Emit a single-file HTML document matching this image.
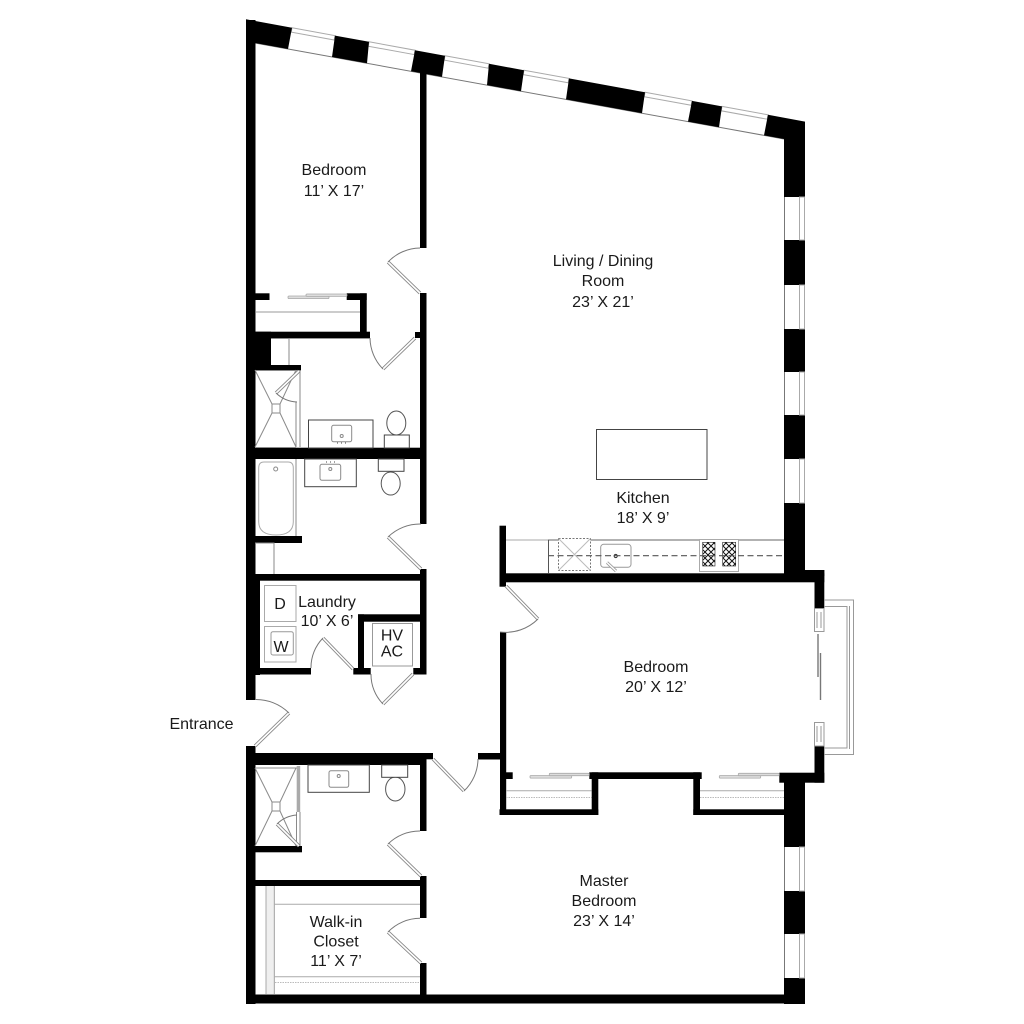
<!DOCTYPE html>
<html><head><meta charset="utf-8"><style>
html,body{margin:0;padding:0;background:#fff}
svg{display:block}
text{font-family:"Liberation Sans",sans-serif;font-size:16px;fill:#1a1a1a;text-anchor:middle}
.g{fill:none;stroke:#8a8a8a;stroke-width:1}
.l{fill:none;stroke:#bbb;stroke-width:1}
.d{fill:none;stroke:#444;stroke-width:1}
.a{fill:none;stroke:#777;stroke-width:1}
.dw{stroke:#888;stroke-width:3.4;fill:none}
.dw2{stroke:#fff;stroke-width:1.6;fill:none}
.s{fill:#ddd;stroke:#aaa;stroke-width:.8}
</style></head><body>
<svg width="1024" height="1024" viewBox="0 0 1024 1024" xmlns="http://www.w3.org/2000/svg">
<defs>
<pattern id="b" width="6" height="6" patternUnits="userSpaceOnUse"><rect width="6" height="6" fill="#fff"/><path d="M0 3L3 0L6 3L3 6Z" fill="none" stroke="#111" stroke-width="1"/></pattern>
</defs>
<rect width="1024" height="1024" fill="#fff"/>

<!-- interior window line on top wall -->
<line x1="255" y1="43" x2="784" y2="139" stroke="#777" stroke-width="1"/>
<!-- top window frames -->
<g fill="none" stroke="#aaa" stroke-width="1">
<path d="M292 27.7L335 35.6L334.2 40L291.2 32.1Z"/>
<path d="M369 41.8L415 50.2L414.2 54.6L368.2 46.2Z"/>
<path d="M445 55.7L489 63.8L488.2 68.2L444.2 60.1Z"/>
<path d="M524 70.2L569 78.4L568.2 82.8L523.2 74.6Z"/>
<path d="M645 92.3L692 100.9L691.2 105.3L644.2 96.7Z"/>
<path d="M722 106.4L768 114.8L767.2 119.2L721.2 110.8Z"/>
</g>
<!-- top wall black -->
<g fill="#000">
<polygon points="246,19.3 292,27.7 288,49 255,43 246,43"/>
<polygon points="335,35.6 369,41.8 367,63.3 332,57"/>
<polygon points="415,50.2 445,55.7 442,76.9 411,71.3"/>
<polygon points="489,63.8 524,70.2 521,91.3 487,85.1"/>
<polygon points="569,78.4 645,92.3 642,113.2 566,99.4"/>
<polygon points="692,100.9 722,106.4 719,127.2 688,121.6"/>
<polygon points="768,114.8 805,121.6 805,197 784,197 784,139 764,135.4"/>
<!-- right wall -->
<rect x="784" y="240" width="21" height="45"/>
<rect x="784" y="329" width="21" height="43"/>
<rect x="784" y="415" width="21" height="44"/>
<rect x="784" y="503" width="21" height="71"/>
<rect x="784" y="773" width="21" height="74"/>
<rect x="784" y="891" width="21" height="43"/>
<rect x="784" y="978" width="21" height="26"/>
<!-- left wall -->
<rect x="246" y="20" width="9.5" height="680"/>
<rect x="246" y="746" width="9.5" height="258"/>
<rect x="246" y="574" width="14" height="101"/>
<!-- bottom wall -->
<rect x="246" y="994.5" width="559" height="9"/>
<!-- central wall x 420-426 -->
<rect x="420" y="70" width="6.5" height="178"/>
<rect x="420" y="293" width="6.5" height="231"/>
<rect x="415" y="332" width="11" height="6"/>
<rect x="420" y="569" width="6.5" height="105.5"/>
<rect x="420" y="759" width="6.5" height="72"/>
<rect x="420" y="876" width="6.5" height="42"/>
<rect x="420" y="963" width="6.5" height="40"/>
<!-- upper closet -->
<rect x="255" y="293.3" width="14.5" height="6.7"/>
<rect x="346.7" y="293.3" width="20" height="6.7"/>
<rect x="360" y="293.3" width="6.7" height="42"/>
<rect x="246" y="331.7" width="124" height="6.7"/>
<rect x="246" y="331.7" width="25" height="39"/>
<rect x="246" y="365" width="55" height="5.5"/>
<!-- bath divider -->
<rect x="255" y="447.7" width="165" height="11.3"/>
<rect x="255" y="536" width="47" height="7"/>
<rect x="246" y="574" width="180" height="6.7"/>
<!-- laundry / hvac -->
<rect x="246" y="668" width="65" height="6.5"/>
<rect x="353.3" y="668" width="17.4" height="6.5"/>
<rect x="413.3" y="668" width="13" height="6.5"/>
<rect x="358" y="614.3" width="62" height="7.4"/>
<rect x="358" y="614.3" width="6" height="55"/>
<!-- hall wall -->
<rect x="246" y="753" width="180" height="12"/>
<rect x="420" y="753" width="13" height="6.3"/>
<rect x="478" y="753" width="22" height="6.5"/>
<rect x="255" y="846" width="47" height="6.3"/>
<rect x="255" y="880" width="165" height="6"/>
<!-- kitchen / bedroom walls -->
<rect x="499.5" y="525.7" width="6.5" height="61"/>
<rect x="500" y="573.3" width="324.3" height="9"/>
<rect x="784" y="570" width="40.3" height="6"/>
<rect x="814.5" y="570" width="9.8" height="38.3"/>
<rect x="500" y="632" width="6.2" height="183"/>
<rect x="814.5" y="746" width="9.8" height="36.7"/>
<rect x="779.3" y="772.7" width="45" height="10"/>
<rect x="506" y="772.3" width="6.7" height="6.7"/>
<rect x="589.3" y="772.3" width="112.4" height="6.7"/>
<rect x="591.7" y="772.3" width="6.6" height="42.7"/>
<rect x="693.3" y="772.3" width="6.7" height="42.7"/>
<rect x="499.5" y="809.3" width="98.8" height="5.7"/>
<rect x="693.3" y="809.3" width="91" height="5.7"/>
</g>

<!-- right windows -->
<g fill="#fff" stroke="#aaa" stroke-width="1">
<rect x="799.5" y="197" width="5" height="43"/>
<rect x="799.5" y="285" width="5" height="44"/>
<rect x="799.5" y="372" width="5" height="43"/>
<rect x="799.5" y="459" width="5" height="44"/>
<rect x="799.5" y="847" width="5" height="44"/>
<rect x="799.5" y="934" width="5" height="44"/>
</g>
<g stroke="#777" stroke-width="1">
<line x1="784.5" y1="197" x2="784.5" y2="240"/><line x1="784.5" y1="285" x2="784.5" y2="329"/>
<line x1="784.5" y1="372" x2="784.5" y2="415"/><line x1="784.5" y1="459" x2="784.5" y2="503"/>
<line x1="784.5" y1="847" x2="784.5" y2="891"/><line x1="784.5" y1="934" x2="784.5" y2="978"/>
</g>

<!-- bay window -->
<g fill="none" stroke="#999" stroke-width="1">
<path d="M824 600H853.5V754.5H824"/>
<path d="M824 606.5H847V748H824"/>
<path d="M849.5 606V749"/>
<rect x="814.5" y="608.5" width="9.5" height="23"/>
<rect x="814.5" y="722.5" width="9.5" height="23.5"/>
<path d="M817 612V628M821 612V628M817 726V742M821 726V742"/>
</g>
<line x1="818" y1="634" x2="818" y2="677" stroke="#777" stroke-width="1.4"/>
<line x1="820.5" y1="653" x2="820.5" y2="700" stroke="#777" stroke-width="1.4"/>

<!-- doors -->
<g>
<path class="dw" d="M420 293L388 262M415 338L383 369M421 569L388 537M353 669L323 638M413 674L383 704M255 746L289 713M433 759L464 791M506 586L538 619M421 876L388 844M421 963L388 932"/>
<path class="dw2" d="M420 293L388 262M415 338L383 369M421 569L388 537M353 669L323 638M413 674L383 704M255 746L289 713M433 759L464 791M506 586L538 619M421 876L388 844M421 963L388 932"/>
<path class="a" d="M388 262A45 45 0 0 1 420 248M383 369A45 45 0 0 1 370 338M388 537A46 46 0 0 1 421 524M323 638A42 42 0 0 0 311 668M383 704A42 42 0 0 1 371 674M289 713A47 47 0 0 0 255 699.5M464 791A45 45 0 0 0 478 759M538 619A46 46 0 0 1 500 632M388 844A45 45 0 0 1 420 831M388 932A45 45 0 0 1 420 918.3"/>
</g>

<!-- closets -->
<line class="l" x1="256" y1="312" x2="360" y2="312" style="stroke:#999"/>
<rect class="s" x="288" y="296" width="41" height="2.6" rx="1"/>
<rect class="s" x="306" y="294" width="41" height="2.4" rx="1"/>
<path class="g" d="M271 338.5H289V365"/>
<path class="g" d="M255 543H274V574"/>
<!-- shower 1 -->
<g>
<path class="g" d="M255 370.5H300V447M296 402V447M255 447.5H296"/>
<path class="g" d="M255 370L272 404M296 370L280 404M255 447L272 413M296 447L280 413"/>
<rect class="g" x="272" y="404" width="8" height="9"/>
<path class="dw" d="M299 371L276 393"/><path class="dw2" d="M299 371L276 393"/>
<path class="a" d="M276 393A32 32 0 0 0 297 402"/>
</g>
<!-- counter 1 -->
<rect x="308.5" y="420" width="64.5" height="28" fill="#fff" stroke="#444"/>
<rect class="g" x="331.7" y="425.3" width="20" height="16.5" rx="2"/>
<circle cx="341.7" cy="436" r="1.5" class="g"/>
<path d="M337 443h1M341 443h1M345 443h1" stroke="#444"/>
<!-- toilet 1 -->
<ellipse class="g" cx="396.3" cy="423" rx="9.5" ry="12" style="stroke:#555"/>
<rect x="384.3" y="435" width="25" height="13" fill="#fff" stroke="#444"/>
<!-- counter 2 -->
<rect x="304.7" y="459" width="51.6" height="27.7" fill="#fff" stroke="#444"/>
<rect class="g" x="320" y="464.3" width="20.7" height="16" rx="2"/>
<circle cx="330.3" cy="469" r="1.5" class="g"/>
<path d="M326 462h1M330 462h1M334 462h1" stroke="#444"/>
<!-- toilet 2 -->
<ellipse class="g" cx="390.7" cy="483.5" rx="9.5" ry="11.5" style="stroke:#555"/>
<rect x="378.3" y="459" width="25.7" height="12.3" fill="#fff" stroke="#444"/>
<!-- tub -->
<path class="g" d="M296 459V536"/>
<path class="g" d="M258.7 468Q258.7 462 264 462H288Q293.3 462 293.3 468V522Q293 535 276 535Q259 535 258.7 522Z" style="stroke:#aaa"/>
<circle cx="275.7" cy="469" r="2" class="g"/>

<!-- laundry units -->
<rect x="264.5" y="585.5" width="31.5" height="36" fill="#fff" stroke="#aaa"/>
<rect x="264.5" y="626.5" width="31.5" height="35.5" fill="#fff" stroke="#aaa"/>
<rect x="271" y="631.7" width="22.3" height="23.3" rx="2" fill="#fff" stroke="#999"/>
<rect x="372.5" y="623.5" width="40" height="42.5" fill="#fff" stroke="#999"/>

<!-- master bath -->
<path class="g" d="M255 768H297"/>
<path class="g" d="M255 768L272 802M296 768L280 802M255 846L272 811M296 846L280 811"/>
<rect class="g" x="272" y="802" width="8" height="9"/>
<rect x="296.7" y="766" width="3.5" height="46" fill="#aaa"/>
<path class="g" d="M300 812V846M296.5 812V846"/>
<path class="dw" d="M299 846L277 824"/><path class="dw2" d="M299 846L277 824"/>
<path class="a" d="M277 824A31 31 0 0 1 297 815"/>
<rect x="308" y="765" width="61.3" height="27.3" fill="#fff" stroke="#444"/>
<rect class="g" x="329" y="770.7" width="19.7" height="16.6" rx="2"/>
<circle cx="338.7" cy="776" r="1.5" class="g"/>
<ellipse class="g" cx="395.3" cy="789" rx="9.7" ry="12" style="stroke:#555"/>
<rect x="381.7" y="765" width="26" height="12.3" fill="#fff" stroke="#444"/>

<!-- walk-in closet -->
<path d="M266 886V994M274.3 886V994M274 904.3H420M274 976.7H420" fill="none" stroke="#aaa"/>
<rect x="266" y="886" width="8" height="108" fill="#efefef"/>
<path d="M266 886V994M274.3 886V994" fill="none" stroke="#aaa"/>
<path d="M275 982.5H420" fill="none" stroke="#bbb" stroke-dasharray="1.5 1"/>

<!-- master closets -->
<path d="M506 790.7H591.5M700 790.7H784" stroke="#aaa" fill="none"/>
<path d="M506 797.5H591.5M700 797.5H784" stroke="#bbb" stroke-dasharray="1.5 1" fill="none"/>
<rect class="s" x="530" y="775.5" width="41.7" height="2.6" rx="1"/>
<rect class="s" x="549.3" y="773.3" width="40" height="2.4" rx="1"/>
<rect class="s" x="719.3" y="775.5" width="41.4" height="2.6" rx="1"/>
<rect class="s" x="738.3" y="773.3" width="41" height="2.4" rx="1"/>

<!-- kitchen -->
<path d="M506 540H548" stroke="#aaa" fill="none"/>
<path d="M548 540H784" stroke="#666" fill="none"/>
<path d="M548.5 540V573" stroke="#555" fill="none"/>
<rect x="558.5" y="538.5" width="32" height="32" fill="#fff" stroke="#777" stroke-dasharray="2 1.5"/>
<path d="M558.5 538.5L590.5 570.5M590.5 538.5L558.5 570.5" stroke="#bbb" fill="none"/>
<rect x="600.7" y="544.3" width="30.3" height="23" rx="3" fill="#fff" stroke="#999"/>
<circle cx="615.7" cy="556" r="1.6" fill="none" stroke="#333"/>
<path d="M607 562.5L616 571" stroke="#999" stroke-width="3" fill="none"/>
<path d="M607 562.5L616 571" stroke="#fff" stroke-width="1.4" fill="none"/>
<rect x="699.5" y="539.5" width="39" height="32" fill="#fff" stroke="#aaa"/>
<rect x="702.7" y="542.3" width="12.3" height="23.7" fill="url(#b)" stroke="#222" stroke-width=".6"/>
<rect x="722.7" y="542.3" width="13" height="23.7" fill="url(#b)" stroke="#222" stroke-width=".6"/>
<path d="M548 555.7H784" stroke="#555" stroke-width="1.2" stroke-dasharray="6 3.5" fill="none"/>
<!-- island -->
<rect x="596.5" y="429.5" width="110.5" height="50" fill="#fff" stroke="#444"/>

<!-- labels -->
<text x="334" y="175">Bedroom</text><text x="334" y="196">11’ X 17’</text>
<text x="603" y="266">Living / Dining</text><text x="603" y="286">Room</text><text x="603" y="307">23’ X 21’</text>
<text x="643" y="503">Kitchen</text><text x="643" y="523">18’ X 9’</text>
<text x="656" y="672">Bedroom</text><text x="656" y="692">20’ X 12’</text>
<text x="604" y="886">Master</text><text x="604" y="906">Bedroom</text><text x="604" y="926">23’ X 14’</text>
<text x="336" y="927">Walk-in</text><text x="336" y="946.5">Closet</text><text x="336" y="966">11’ X 7’</text>
<text x="327" y="607">Laundry</text><text x="327" y="626">10’ X 6’</text>
<text x="392" y="640.7">HV</text><text x="392" y="656.7">AC</text>
<text x="280" y="609">D</text><text x="281" y="652">W</text>
<text x="201.5" y="729">Entrance</text>
</svg>
</body></html>
